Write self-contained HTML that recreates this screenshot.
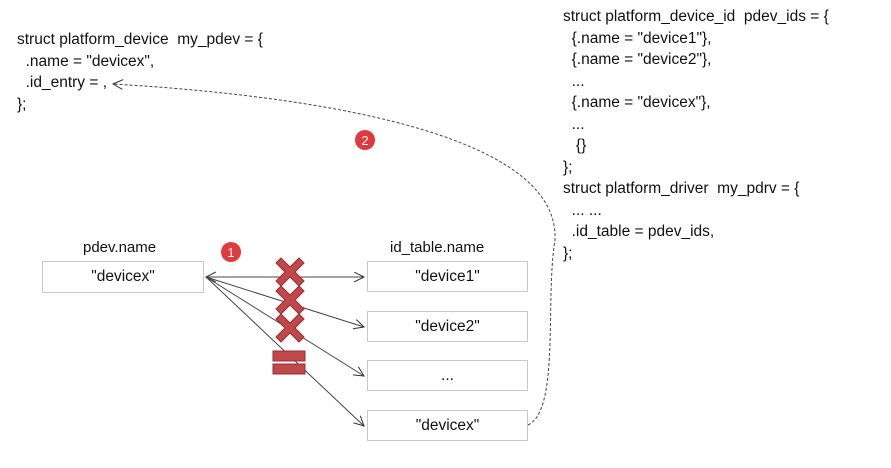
<!DOCTYPE html>
<html><head><style>
body{margin:0;background:#fff;width:891px;height:468px;overflow:hidden;position:relative;font-family:"Liberation Sans",sans-serif;font-size:15.5px;color:#111}
.t{position:absolute;white-space:pre;line-height:21.5px}
.b{position:absolute;border:1px solid #c8c8c8;background:#fff;text-align:center;font-size:15.5px}
</style></head><body>
<div class="t" style="left:17px;top:29px">struct platform_device  my_pdev = {
  .name = "devicex",
  .id_entry = ,
};</div>
<div class="t" style="left:563px;top:6px">struct platform_device_id  pdev_ids = {
  {.name = "device1"},
  {.name = "device2"},
  ...
  {.name = "devicex"},
  ...
   {}
};
struct platform_driver  my_pdrv = {
  ... ...
  .id_table = pdev_ids,
};</div>
<div class="t" style="left:83px;top:237px;font-size:15px">pdev.name</div>
<div class="t" style="left:390px;top:237px;font-size:15px">id_table.name</div>
<div class="b" style="left:42px;top:261px;width:160px;height:30px;line-height:30px">"devicex"</div>
<div class="b" style="left:367px;top:261px;width:159px;height:29px;line-height:29px">"device1"</div>
<div class="b" style="left:367px;top:311px;width:159px;height:29px;line-height:29px">"device2"</div>
<div class="b" style="left:367px;top:360px;width:159px;height:29px;line-height:29px">...</div>
<div class="b" style="left:367px;top:410px;width:159px;height:29px;line-height:29px">"devicex"</div>
<svg width="891" height="468" style="position:absolute;left:0;top:0">
<defs><marker id="a" markerWidth="12" markerHeight="12" refX="10" refY="5" orient="auto-start-reverse" markerUnits="userSpaceOnUse"><path d="M0,0L10,5L0,10" fill="none" stroke="#333" stroke-width="1"/></marker></defs>
<g stroke="#444" stroke-width="1" fill="none">
<line x1="206" y1="277" x2="364" y2="277" marker-end="url(#a)" marker-start="url(#a)"/>
<line x1="206" y1="277" x2="364" y2="327" marker-end="url(#a)"/>
<line x1="206" y1="277" x2="364" y2="376" marker-end="url(#a)"/>
<line x1="206" y1="277" x2="364" y2="426" marker-end="url(#a)"/>
<path d="M528,425 C560,410 545,300 555,240 C560,130 300,95 113,84" stroke-dasharray="3,2" marker-end="url(#a)"/>
</g>
<g fill="#c0474a" stroke="#9a2f32" stroke-width="1">
<g transform="translate(290,272)"><path d="M-14,-9L-9,-14L0,-5L9,-14L14,-9L5,0L14,9L9,14L0,5L-9,14L-14,9L-5,0Z"/></g>
<g transform="translate(290,300)"><path d="M-14,-9L-9,-14L0,-5L9,-14L14,-9L5,0L14,9L9,14L0,5L-9,14L-14,9L-5,0Z"/></g>
<g transform="translate(290,328)"><path d="M-14,-9L-9,-14L0,-5L9,-14L14,-9L5,0L14,9L9,14L0,5L-9,14L-14,9L-5,0Z"/></g>
<rect x="273" y="351" width="32" height="10"/><rect x="273" y="364" width="32" height="10"/>
</g>
<circle cx="231" cy="252" r="10" fill="#e0393e"/><text x="231" y="257" fill="#fff" font-size="13" text-anchor="middle" font-family="Liberation Sans">1</text>
<circle cx="365" cy="140" r="10" fill="#e0393e"/><text x="365" y="145" fill="#fff" font-size="13" text-anchor="middle" font-family="Liberation Sans">2</text>
</svg>
</body></html>
